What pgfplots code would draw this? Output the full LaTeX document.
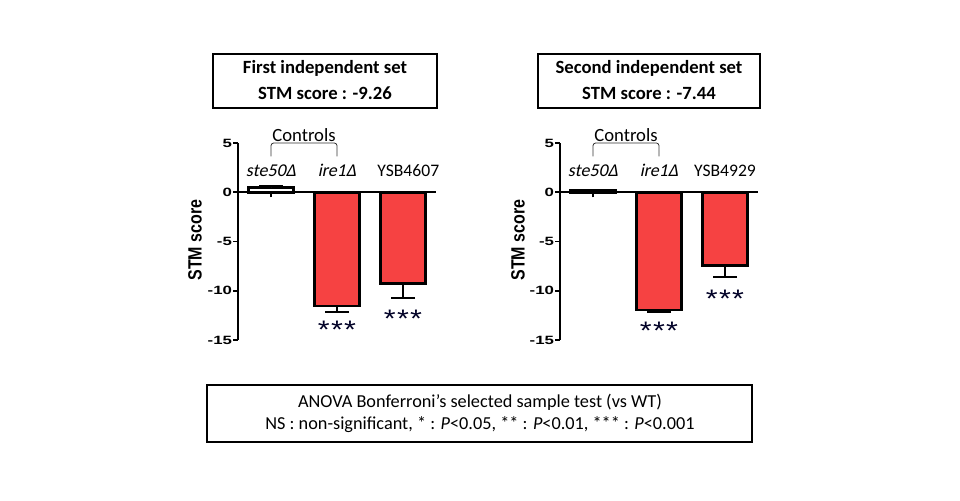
\documentclass[border=0pt]{standalone}
\usepackage{fontspec}
\setmainfont{Carlito}
\newfontfamily\arial{Liberation Sans}
\newfontfamily\slant[FakeSlant=0.2]{Carlito}
\usepackage{pgfplots}
\pgfplotsset{compat=1.18}
\definecolor{barred}{RGB}{246,66,66}

\pgfplotsset{
  stmaxis/.style={
    scale only axis, width=148.5pt, height=147.75pt,
    xmin=-0.5, xmax=2.5, ymin=-15, ymax=5,
    axis y line=left, axis x line=middle,
    axis line style={-, line width=1.6pt},
    every inner x axis line/.append style={-},
    every outer y axis line/.append style={-},
    ytick={-15,-10,-5,0,5}, xtick={0,1,2}, xticklabels={},
    tick align=outside, major tick length=3.75pt,
    tick style={line width=1.4pt, black},
    yticklabel={\scalebox{1.4}[1]{\pgfmathprintnumber{\tick}}},
    yticklabel style={font=\arial\bfseries\fontsize{9}{10}\selectfont, inner sep=0.6pt},
    /pgf/number format/assume math mode=true,
    ybar, bar width=0.68, bar shift=0pt,
    clip=false,
  },
  stmbar/.style 2 args={draw=black, line width=2pt, fill=#1,
    error bars/.cd, y explicit, y dir=#2,
    error bar style={line width=1.6pt},
    error mark options={line width=1.6pt, mark size=9pt, rotate=90}},
}
\tikzset{
  cat/.style={anchor=base, font=\fontsize{13.2}{15}\selectfont},
  icat/.style={anchor=base, font=\slant\fontsize{13.5}{15}\selectfont},
  star/.style={font=\arial\fontsize{19}{20}\selectfont, text=black!85!blue},
}
\newcommand{\stars}{\scalebox{1.2}[1]{*\kern0.8pt*\kern0.8pt*}}

\begin{document}
\begin{tikzpicture}[x=0.75pt,y=0.75pt]
\path[fill=white] (0,0) rectangle (960,500);
\coordinate (A1) at (238,160);
\coordinate (A2) at (560,160);

% ---------- first set ----------
\draw[line width=0.8pt] (213,446) rectangle (437,392);
\node[font=\bfseries\fontsize{14}{16}\selectfont] at (325,432) {First independent set};
\node[font=\bfseries\fontsize{14}{16}\selectfont] at (325,407) {STM score : -9.26};

\begin{axis}[stmaxis, at={(A1)}, anchor=south west]
  \addplot[stmbar={white}{plus}] coordinates {(0,0.5) +- (0,0.1)};
  \addplot[stmbar={barred}{minus}] coordinates {(1,-11.55) +- (0,0.6)};
  \addplot[stmbar={barred}{minus}] coordinates {(2,-9.26) +- (0,1.45)};
  \node[icat] at (axis cs:0,1.6) {ste50Δ};
  \node[icat] at (axis cs:1,1.6) {ire1Δ};
  \node[cat] at (axis cs:2.08,1.6) {YSB4607};
  \node[star] at (axis cs:1,-14.0) {\stars};
  \node[star] at (axis cs:2,-12.8) {\stars};
  \node[font=\fontsize{14}{16}\selectfont] at (axis cs:0.5,5.8) {Controls};
  \draw[line width=0.6pt, black!80, rounded corners=2pt] (axis cs:0,3.65) |- (axis cs:0.5,5.0) -| (axis cs:1,3.65);
\end{axis}
\node[rotate=90, font=\arial\bfseries\fontsize{12}{13}\selectfont] at (195,260) {\scalebox{1}[1.2]{STM score}};

% ---------- second set ----------
\draw[line width=0.8pt] (538,446) rectangle (760,392);
\node[font=\bfseries\fontsize{14}{16}\selectfont] at (649,432) {Second independent set};
\node[font=\bfseries\fontsize{14}{16}\selectfont] at (649,407) {STM score : -7.44};

\begin{axis}[stmaxis, at={(A2)}, anchor=south west]
  \addplot[stmbar={white}{plus}] coordinates {(0,0.2) +- (0,0.05)};
  \addplot[stmbar={barred}{minus}] coordinates {(1,-11.95) +- (0,0.15)};
  \addplot[stmbar={barred}{minus}] coordinates {(2,-7.44) +- (0,1.15)};
  \node[icat] at (axis cs:0,1.6) {ste50Δ};
  \node[icat] at (axis cs:1,1.6) {ire1Δ};
  \node[cat] at (axis cs:2,1.6) {YSB4929};
  \node[star] at (axis cs:1,-14.1) {\stars};
  \node[star] at (axis cs:2,-10.85) {\stars};
  \node[font=\fontsize{14}{16}\selectfont] at (axis cs:0.5,5.8) {Controls};
  \draw[line width=0.6pt, black!80, rounded corners=2pt] (axis cs:0,3.65) |- (axis cs:0.5,5.0) -| (axis cs:1,3.65);
\end{axis}
\node[rotate=90, font=\arial\bfseries\fontsize{12}{13}\selectfont] at (518,260) {\scalebox{1}[1.2]{STM score}};

% ---------- statistics note ----------
\draw[line width=0.8pt] (207,115) rectangle (752,58);
\node[font=\fontsize{13.7}{15}\selectfont] at (480,98) {ANOVA Bonferroni’s selected sample test (vs WT)};
\node[font=\fontsize{13.7}{15}\selectfont] at (480,75) {NS : non-significant, * : \textit{P}<0.05, ** : \textit{P}<0.01, *** : \textit{P}<0.001};
\end{tikzpicture}
\end{document}
